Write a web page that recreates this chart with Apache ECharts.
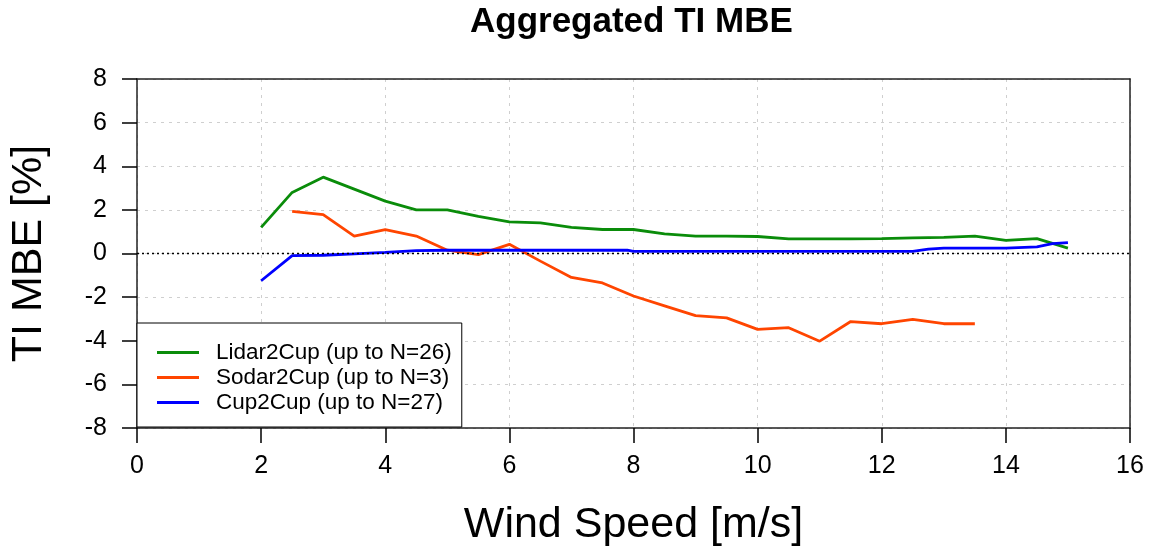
<!DOCTYPE html>
<html>
<head>
<meta charset="utf-8">
<script src="https://cdn.jsdelivr.net/npm/echarts@6/dist/echarts.min.js"></script>
<style>
  html, body { margin: 0; padding: 0; background: #fff; }
  #chart { width: 1160px; height: 549px; }
</style>
</head>
<body>
<div id="chart"></div>
<script>
// values
var lidarX = [2, 2.5, 3, 3.5, 4, 4.5, 5, 5.5, 6, 6.5, 7, 7.5, 8, 8.5, 9, 9.5, 10, 10.5, 11, 11.5, 12, 12.5, 13, 13.5, 14, 14.5, 15];
var lidarY = [1.2, 2.8, 3.5, 2.95, 2.4, 2.0, 2.0, 1.7, 1.45, 1.4, 1.2, 1.1, 1.1, 0.9, 0.8, 0.8, 0.78, 0.67, 0.67, 0.67, 0.68, 0.72, 0.74, 0.8, 0.6, 0.68, 0.25];

var sodarX = [2.5, 3, 3.5, 4, 4.5, 5, 5.5, 6, 6.5, 7, 7.5, 8, 8.5, 9, 9.5, 10, 10.5, 11, 11.5, 12, 12.5, 13, 13.5];
var sodarY = [1.93, 1.78, 0.8, 1.1, 0.8, 0.15, -0.05, 0.42, -0.35, -1.1, -1.35, -1.95, -2.4, -2.85, -2.95, -3.48, -3.4, -4.02, -3.12, -3.22, -3.02, -3.22, -3.22];

var cupX = [2, 2.5, 3, 3.5, 4, 4.5, 5, 6, 7, 7.9, 8, 9, 10, 11, 12, 12.5, 12.75, 13, 13.5, 14, 14.5, 14.75, 15];
var cupY = [-1.25, -0.1, -0.08, -0.02, 0.05, 0.13, 0.15, 0.15, 0.15, 0.15, 0.1, 0.1, 0.1, 0.1, 0.1, 0.1, 0.2, 0.25, 0.25, 0.25, 0.3, 0.45, 0.5];

var seriesNames = ['Lidar2Cup (up to N=26)', 'Sodar2Cup (up to N=3)', 'Cup2Cup (up to N=27)'];
var seriesColors = ['#0a8c0a', '#ff4500', '#0000ff'];

function pairs(xs, ys) {
    var out = [];
    for (var i = 0; i < xs.length; i++) {
        out.push([xs[i], ys[i]]);
    }
    return out;
}

var myChart = echarts.init(document.getElementById('chart'));

var fontFamily = '"Liberation Sans", Arial, sans-serif';
var frameLine = { show: true, onZero: false, lineStyle: { color: '#222', width: 1.5 } };

var option = {
    backgroundColor: '#fff',
    animation: false,
    title: {
        text: 'Aggregated TI MBE',
        left: 470,
        top: 5,
        padding: 0,
        textStyle: {
            fontFamily: fontFamily,
            fontSize: 35,
            fontWeight: 'bold',
            color: '#000'
        }
    },
    grid: {
        left: 137,
        right: 30,
        top: 79,
        bottom: 121,
        containLabel: false,
        outerBoundsMode: 'none'
    },
    legend: {
        orient: 'vertical',
        left: 137,
        top: 323,
        padding: [17, 10, 12, 20],
        itemGap: 0,
        itemWidth: 42,
        itemHeight: 3,
        icon: 'rect',
        backgroundColor: '#fff',
        borderColor: '#000',
        borderWidth: 1,
        z: 10,
        textStyle: {
            fontFamily: fontFamily,
            fontSize: 22.5,
            lineHeight: 25,
            color: '#000',
            padding: [0, 0, 0, 12]
        },
        data: seriesNames
    },
    xAxis: [{
        type: 'value',
        min: 0,
        max: 16,
        interval: 2,
        name: 'Wind Speed [m/s]',
        nameLocation: 'middle',
        nameGap: 76,
        nameTextStyle: {
            fontFamily: fontFamily,
            fontSize: 43,
            color: '#000'
        },
        axisLine: frameLine,
        axisTick: { show: true, inside: false, length: 15, lineStyle: { color: '#000', width: 1.5 } },
        axisLabel: {
            margin: 26,
            fontFamily: fontFamily,
            fontSize: 25,
            color: '#000'
        },
        splitLine: { show: true, lineStyle: { color: '#cfcfcf', type: [3, 5], width: 1 } }
    }, {
        // top edge of the frame
        type: 'value',
        position: 'top',
        min: 0,
        max: 16,
        interval: 2,
        axisLine: frameLine,
        axisTick: { show: false },
        axisLabel: { show: false },
        splitLine: { show: false }
    }],
    yAxis: [{
        type: 'value',
        min: -8,
        max: 8,
        interval: 2,
        name: 'TI MBE [%]',
        nameLocation: 'middle',
        nameRotate: 90,
        nameGap: 86,
        nameTextStyle: {
            fontFamily: fontFamily,
            fontSize: 43,
            color: '#000'
        },
        axisLine: frameLine,
        axisTick: { show: true, inside: false, length: 15, lineStyle: { color: '#000', width: 1.5 } },
        axisLabel: {
            margin: 30,
            fontFamily: fontFamily,
            fontSize: 25,
            color: '#000'
        },
        splitLine: { show: true, lineStyle: { color: '#cfcfcf', type: [3, 5], width: 1 } }
    }, {
        // right edge of the frame
        type: 'value',
        position: 'right',
        min: -8,
        max: 8,
        interval: 2,
        axisLine: frameLine,
        axisTick: { show: false },
        axisLabel: { show: false },
        splitLine: { show: false }
    }],
    series: [{
        name: seriesNames[0],
        type: 'line',
        data: pairs(lidarX, lidarY),
        color: seriesColors[0],
        showSymbol: false,
        lineStyle: { width: 2.8 },
        markLine: {
            silent: true,
            symbol: 'none',
            label: { show: false },
            lineStyle: { color: '#000', type: [2, 3], width: 1.4 },
            data: [{ yAxis: 0 }]
        }
    }, {
        name: seriesNames[1],
        type: 'line',
        data: pairs(sodarX, sodarY),
        color: seriesColors[1],
        showSymbol: false,
        lineStyle: { width: 2.8 }
    }, {
        name: seriesNames[2],
        type: 'line',
        data: pairs(cupX, cupY),
        color: seriesColors[2],
        showSymbol: false,
        lineStyle: { width: 2.8 }
    }]
};

myChart.setOption(option);
</script>
</body>
</html>
